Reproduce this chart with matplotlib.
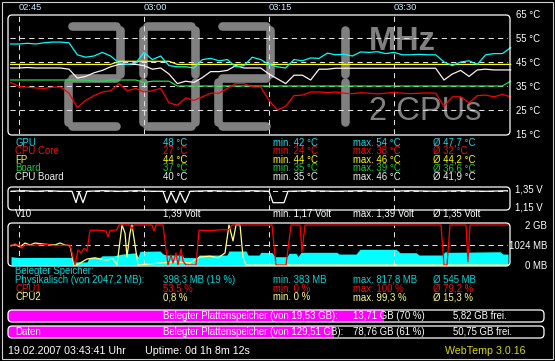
import numpy as np
import matplotlib.pyplot as plt
from matplotlib.patches import FancyBboxPatch, Rectangle

W, H = 555, 361

plt.rcParams['font.family'] = ['Liberation Sans', 'DejaVu Sans']

# time axis: minutes after 02:45
tick_minutes = [0, 15, 30, 45]
time_labels = ['02:45', '03:00', '03:15', '03:30']
t_left, t_right = -1.08, 58.68

# temperatures, one value per minute from -1 to 59
temp_minutes = np.arange(-1, 60)
gpu = [52.5, 52.5, 52.8, 52.5, 53, 53.3, 53.3, 53, 48, 47, 47.5, 49, 47.5, 44.5, 44, 44.5,
       49, 46, 47.5, 43.5, 43, 43, 42.5, 46, 46.5, 45.5, 46, 43, 43.5, 47, 46, 44, 43, 42.5,
       46, 45.5, 46.7, 46.5, 48.7, 48, 48.2, 47.5, 49.2, 49, 49.3, 48.5, 49, 48, 48, 48.2,
       48, 48, 45, 43.5, 45, 45.5, 44, 48, 48.5, 48.5, 51]
cpu_core = [36.5, 34.8, 34.5, 34.2, 34, 34.5, 34.6, 32, 26, 29, 31, 32.5, 33, 36, 33, 34,
            32.5, 33, 34, 28, 27, 30, 29, 30.5, 32, 32, 34, 36, 36, 34.6, 34.6, 29, 25, 26.5,
            31, 31.2, 32.5, 32.5, 32.3, 32.5, 32, 31.8, 32.2, 32, 31.7, 32, 32.3, 32, 31.8, 32,
            32.1, 32, 26.5, 30.5, 30.5, 28, 31, 31.2, 30.5, 31.5, 30.5]
fp = [44, 44, 44, 44, 44, 44, 44, 44, 44, 44, 44, 44, 44, 45.3, 45.3, 45.3, 45.3, 45.3, 45.3,
      45.3, 44, 44, 44, 44, 44, 44, 44, 44, 44, 44, 44, 44, 44, 44, 44, 44, 44, 44, 44, 44,
      44, 44, 44, 44, 44, 44, 44, 44, 44, 44, 44, 44, 44, 44, 44, 44, 44, 44, 44, 44, 44]
board = [37.5, 37.5, 37.5, 37.5, 37.5, 37.5, 37.5, 37.5, 37.5, 37.5, 37, 37, 37.5, 37.5, 37.5,
         37.5, 36.5, 37, 37, 37, 35, 35, 35, 35, 35, 35, 35, 35, 35, 35, 35, 35, 35, 35, 35,
         35, 35, 35, 35, 35, 35, 35, 35, 35, 35, 35, 35, 35, 35, 35, 35, 35, 35, 35, 35, 35,
         35, 35, 35, 35, 37]
cpu_board = [42.5, 42.5, 42.7, 42.5, 42.5, 42.5, 42.5, 42, 38.3, 39, 40.5, 41.5, 43, 44, 44, 44,
             43.5, 42, 42.5, 40, 36, 37, 36.5, 38.5, 41, 41, 41.5, 43.5, 42.5, 42.5, 42.5, 40,
             38, 36, 39.5, 39.5, 37.5, 42, 42, 42.4, 42.4, 42.4, 42.4, 42.4, 42.4, 42.4, 42.4,
             42.4, 42.4, 42.4, 42.4, 42.4, 37.5, 40, 41.5, 39, 41.7, 42, 41.7, 41.7, 41.7]

temp_names = ['GPU', 'CPU Core', 'FP', 'Board', 'CPU Board']
temp_now = [48, 27, 44, 37, 40]
temp_min = [42, 24, 44, 35, 35]
temp_max = [54, 38, 46, 39, 46]
temp_avg = [47.7, 32, 44.2, 36.6, 41.9]
temp_colors = ['#00ffff', '#ff0000', '#ffff00', '#22dd44', '#fff0f0']
temp_text_colors = ['#20d8e8', '#f01010', '#ffff00', '#10d040', '#f0f0f0']
temp_ticks = [15, 25, 35, 45, 55, 65]

cpu_mhz = '2021'

# core voltage
v_minutes = [-0.96, 0.5, 2.0, 3.5, 5.0, 6.36, 6.84, 7.2, 7.68, 8.16, 10, 12, 14, 16, 17.28,
             17.76, 18.24, 18.84, 19.32, 19.92, 20.52, 23, 26, 28, 30.0, 30.48, 31.8, 32.28,
             35, 38, 41, 44, 47, 50, 53, 56, 58.68]
v10 = [1.38, 1.39, 1.38, 1.39, 1.38, 1.38, 1.17, 1.37, 1.17, 1.38, 1.39, 1.38, 1.39, 1.38,
       1.38, 1.17, 1.36, 1.17, 1.36, 1.17, 1.38, 1.39, 1.38, 1.39, 1.38, 1.17, 1.17, 1.38,
       1.39, 1.38, 1.39, 1.38, 1.39, 1.38, 1.39, 1.38, 1.39]

# memory (MB) and cpu load (%)
mem_minutes = [-0.96, 0.12, 1.32, 6.36, 6.6, 8.16, 8.4, 9.72, 9.96, 11.4, 11.88, 12.36, 13.32,
               14.04, 14.28, 14.52, 16.92, 17.28, 17.76, 19.56, 19.8, 21.36, 21.6, 24.96, 25.2,
               27.24, 27.48, 28.8, 29.04, 30.36, 30.72, 32.16, 32.4, 33.24, 33.48, 33.84, 38.16,
               38.4, 40.44, 40.92, 45.24, 45.72, 47.64, 48.0, 50.76, 51.12, 51.72, 54.12, 57.72,
               58.08, 58.68]
mem_used = [425, 380, 390, 390, 160, 160, 380, 390, 470, 475, 520, 560, 600, 620, 420, 700,
            717, 560, 510, 510, 380, 380, 510, 510, 717, 717, 510, 510, 650, 640, 425, 425,
            600, 600, 430, 650, 650, 560, 560, 803, 803, 630, 630, 512, 512, 680, 650, 660,
            680, 560, 563]
cpu1_minutes = [-0.96, 0.12, 0.36, 0.6, 1.68, 3.12, 4.32, 6.12, 6.48, 6.72, 7.08, 7.44, 7.8,
                8.16, 8.52, 9.72, 10.44, 10.68, 10.92, 11.76, 12.0, 13.32, 13.56, 13.8, 15.96,
                16.2, 16.44, 17.28, 17.88, 18.24, 18.48, 18.84, 19.08, 19.44, 19.68, 20.04,
                21.24, 21.6, 22.92, 24.12, 25.2, 25.56, 30.36, 30.84, 32.04, 32.64, 33.72,
                33.96, 34.32, 50.64, 51.0, 51.36, 51.72, 53.64, 53.88, 54.12, 58.68]
cpu1 = [50, 50, 42, 50, 49, 52, 48, 50, 20, 0, 38, 30, 42, 35, 87, 87, 85, 70, 86, 88, 100,
        100, 90, 100, 100, 85, 100, 100, 0, 25, 5, 30, 0, 40, 10, 0, 0, 87, 86, 88, 88, 100,
        100, 0, 0, 100, 100, 33, 100, 100, 0, 0, 100, 100, 8, 100, 100]
cpu2_minutes = [-0.96, -0.48, 0.12, 0.72, 1.32, 1.92, 3.12, 4.32, 4.92, 5.52, 6.12, 6.6, 7.08,
                8.16, 9.12, 10.32, 11.28, 11.76, 12.36, 12.72, 12.96, 13.32, 13.56, 13.92,
                14.28, 16.92, 18.72, 20.52, 21.72, 22.92, 23.88, 24.72, 25.2, 25.68, 26.04,
                26.52, 26.88, 27.24, 58.68]
cpu2 = [48, 52, 45, 55, 50, 55, 52, 50, 55, 50, 48, 0, 2, 15, 18, 12, 15, 0, 100, 80, 20, 80,
        100, 50, 0, 5, 8, 5, 20, 22, 18, 30, 100, 60, 100, 100, 20, 0, 0]

mem_rows = [
    ('Physikalisch (von 2047,2 MB):', '398,3 MB (19 %)', 'min. 383 MB', 'max. 817,8 MB', 'Ø 545 MB'),
    ('CPU1', '53,5 %', 'min. 0 %', 'max. 100 %', 'Ø 79,2 %'),
    ('CPU2', '0,8 %', 'min. 0 %', 'max. 99,3 %', 'Ø 15,3 %'),
]
mem_row_colors = ['#00d8d8', '#f01010', '#ffff80']

# disks
disk_names = ['', 'Daten']
disk_total = [19.53, 129.51]
disk_used = [13.71, 78.76]
disk_free = [5.82, 50.75]

date_text = '19.02.2007 03:43:41 Uhr'
uptime_text = 'Uptime: 0d 1h 8m 12s'
version_text = 'WebTemp 3.0.16'


def de(v):
    return f'{v:g}'.replace('.', ',')


fig = plt.figure(figsize=(W / 100, H / 100), dpi=100, facecolor='black')

bg = fig.add_axes([0, 0, 1, 1])
bg.set_xlim(0, W)
bg.set_ylim(H, 0)
bg.axis('off')
bg.set_zorder(0)

fg = fig.add_axes([0, 0, 1, 1])
fg.set_xlim(0, W)
fg.set_ylim(H, 0)
fg.axis('off')
fg.patch.set_alpha(0)
fg.set_zorder(10)


def panel(x0, y0, x1, y1, z=2):
    ax = fig.add_axes([x0 / W, 1 - y1 / H, (x1 - x0) / W, (y1 - y0) / H])
    ax.patch.set_alpha(0)
    ax.set_zorder(z)
    for s in ax.spines.values():
        s.set_visible(False)
    ax.set_xticks([])
    ax.set_yticks([])
    return ax


def dashed(ax):
    for tm in tick_minutes:
        ax.axvline(tm, color='#e0e0e0', lw=0.75, ls=(0, (5, 4)))


def label(x, y, s, color='white', size=6.9, ha='left', **kw):
    fg.text(x, y, s, color=color, fontsize=size, ha=ha, va='center', **kw)


def box(x, y, w, h, color='white'):
    p = FancyBboxPatch((x, y), w, h, boxstyle='round,pad=0,rounding_size=4',
                       fill=False, ec=color, lw=0.9)
    fg.add_patch(p)
    return p


# seven segment MHz display behind the temperature chart
SEGMENTS = {'0': 'abcdef', '1': 'bc', '2': 'abged'}
for i, ch in enumerate(cpu_mhz):
    xl = 68 + 75 * i
    xr = xl + 52
    yt, ym, yb, g = 26, 78, 126, 4
    segs = {
        'a': [(xl + g, yt), (xr - g, yt)],
        'b': [(xr, yt + g), (xr, ym - g)],
        'c': [(xr, ym + g), (xr, yb - g)],
        'd': [(xl + g, yb), (xr - g, yb)],
        'e': [(xl, ym + g), (xl, yb - g)],
        'f': [(xl, yt + g), (xl, ym - g)],
        'g': [(xl + g, ym), (xr - g, ym)],
    }
    for s in SEGMENTS[ch]:
        (x0, y0), (x1, y1) = segs[s]
        bg.plot([x0, x1], [y0, y1], color='#808080', lw=6.2, solid_capstyle='round')
bg.text(369, 41, 'MHz', color='#808080', fontsize=23.5, fontweight='bold', va='center')
bg.text(369, 111, '2 CPUs', color='#808080', fontsize=23.5, va='center')

# temperature chart
ax_t = panel(10, 14, 508, 134)
ax_t.set_xlim(t_left, t_right)
ax_t.set_ylim(15, 65)
dashed(ax_t)
for lvl in temp_ticks[1:-1]:
    ax_t.axhline(lvl, color='#e0e0e0', lw=0.75, ls=(0, (5, 4)))
for vals, c in zip([fp, board, cpu_board, gpu, cpu_core],
                   [temp_colors[2], temp_colors[3], temp_colors[4], temp_colors[0], temp_colors[1]]):
    ax_t.plot(temp_minutes, vals, color=c, lw=0.9, clip_on=False)
ax_t.set_xlim(t_left, t_right)
ax_t.xaxis.tick_top()
ax_t.set_xticks(tick_minutes)
ax_t.set_xticklabels(time_labels)
for lbl in ax_t.get_xticklabels():
    lbl.set_horizontalalignment('left')
ax_t.tick_params(axis='x', length=0, pad=1.5, labelsize=6.7, labelcolor='#cdeeff')
ax_t.yaxis.tick_right()
ax_t.set_yticks(temp_ticks)
ax_t.set_yticklabels([f'{v} °C' for v in temp_ticks])
ax_t.tick_params(axis='y', length=0, pad=5.8, labelsize=6.9, labelcolor='white')
box(8, 15, 502, 120)

for i, name in enumerate(temp_names):
    y = 142.5 + 8.6 * i
    c = temp_text_colors[i]
    label(15, y, name, c)
    label(163, y, f'{temp_now[i]} °C', c)
    label(273, y, f'min. {temp_min[i]} °C', c)
    label(353, y, f'max. {temp_max[i]} °C', c)
    label(433, y, f'Ø {de(temp_avg[i])} °C', c)

# voltage chart
ax_v = panel(10, 188, 508, 210)
ax_v.set_xlim(t_left, t_right)
ax_v.set_ylim(1.036, 1.44)
dashed(ax_v)
ax_v.axhline(1.385, color='#e0e0e0', lw=0.75, ls=(0, (5, 4)))
ax_v.plot(v_minutes, v10, color='white', lw=0.9)
ax_v.set_xlim(t_left, t_right)
box(8, 187, 502, 23)
label(515, 190, '1,35 V')
label(515, 207, '1,15 V')
label(15, 214, 'V10')
label(163, 214, f'{de(v10[-1])} Volt')
label(273, 214, f'min. {de(min(v10))} Volt')
label(353, 214, f'max. {de(max(v10))} Volt')
label(433, 214, 'Ø 1,35 Volt')

# memory / cpu chart
ax_m = panel(10, 225, 508, 265)
ax_m.set_xlim(t_left, t_right)
ax_m.set_ylim(0, 2048)
ax_m.fill_between(mem_minutes, 0, mem_used, color='#00ffff', lw=0)
dashed(ax_m)
ax_m.axhline(1024, color='#e0e0e0', lw=0.75, ls=(0, (5, 4)))
ax_m.yaxis.tick_right()
ax_m.set_yticks([0, 1024, 2048])
ax_m.set_yticklabels(['0 MB', '1024 MB', '2 GB'])
for lbl in ax_m.get_yticklabels():
    lbl.set_horizontalalignment('right')
ax_m.tick_params(axis='y', length=0, pad=28, labelsize=6.9, labelcolor='white')

ax_c = panel(10, 225, 508, 265, z=3)
ax_c.set_xlim(t_left, t_right)
ax_c.set_ylim(0, 100)
ax_c.plot(cpu2_minutes, cpu2, color='#ffff80', lw=0.9, clip_on=False)
ax_c.plot(cpu1_minutes, cpu1, color='#ff0000', lw=0.9, clip_on=False)
ax_c.set_xlim(t_left, t_right)
box(8, 223, 502, 43)

label(15, 271.5, 'Belegter Speicher:', mem_row_colors[0])
for i, row in enumerate(mem_rows):
    y = 280 + 8.7 * i
    for x, s in zip([15, 163, 273, 353, 433], row):
        label(x, y, s, mem_row_colors[i])

# disk usage bars
ax_d = panel(8, 308, 544, 340)
ax_d.set_xlim(0, 100)
ax_d.set_ylim(1.5, -0.5)
pct = [u / t * 100 for u, t in zip(disk_used, disk_total)]
bars = ax_d.barh([0, 1], pct, height=0.75, color='#ff00ff', lw=0)
for i, bar in enumerate(bars):
    outline = box(8, 310 + 16 * i, 536, 12)
    bar.set_clip_path(outline)
    y = 316 + 16 * i
    label(15, y, disk_names[i])
    label(163, y, f'Belegter Plattenspeicher (von {de(disk_total[i])} GB):')
    label(353, y, f'{de(disk_used[i])} GB ({round(pct[i])} %)')
    label(453, y, f'{de(disk_free[i])} GB frei.')

# status line
label(8, 351.5, date_text, size=7.7)
label(145, 351.5, uptime_text, size=7.7)
label(445, 351.5, version_text, '#d8d800', size=7.7)
fg.add_patch(Rectangle((1.5, 1.5), 551.5, 357.5, fill=False, ec='#d0d0d0', lw=0.8))

fig.savefig('out.png', dpi=100, facecolor='black')
